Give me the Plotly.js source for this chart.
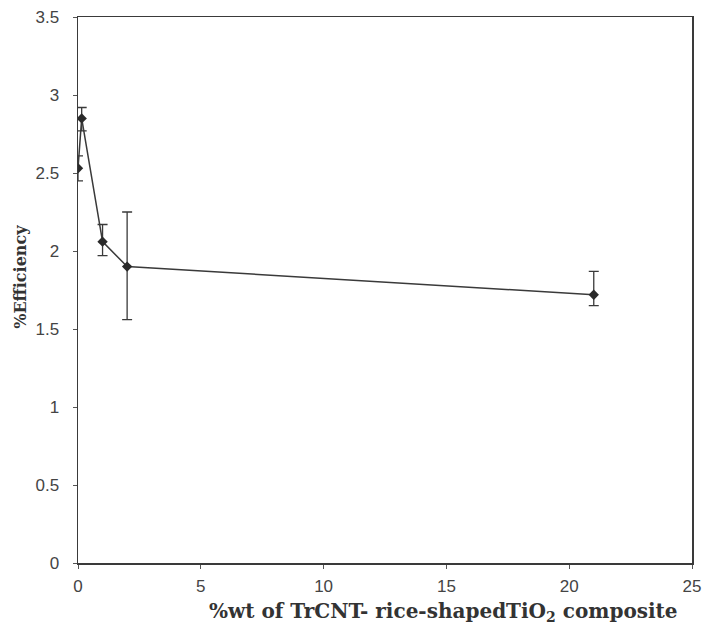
<!DOCTYPE html>
<html>
<head>
<meta charset="utf-8">
<script src="https://cdn.plot.ly/plotly-3.0.1.min.js"></script>
<style>html,body{margin:0;padding:0;background:#fff;}#chart{width:708px;height:625px;}</style>
</head>
<body>
<div id="chart"></div>
<script>
const wtPercent = [0, 0.15, 1, 2, 21];
const efficiency = [2.53, 2.85, 2.06, 1.90, 1.72];
const errPlus = [0.08, 0.07, 0.11, 0.35, 0.15];
const errMinus = [0.08, 0.08, 0.09, 0.34, 0.07];
const yTicks = [0, 0.5, 1, 1.5, 2, 2.5, 3, 3.5];
const xTicks = [0, 5, 10, 15, 20, 25];

const trace = {
  x: wtPercent,
  y: efficiency,
  type: 'scatter',
  mode: 'lines+markers',
  line: {color: '#3a3a3a', width: 1.5},
  marker: {symbol: 'diamond', size: 8, color: '#2a2a2a'},
  error_y: {type: 'data', symmetric: false, array: errPlus, arrayminus: errMinus,
            color: '#3a3a3a', thickness: 1.3, width: 5},
  showlegend: false,
  hoverinfo: 'skip'
};

const tickFont = {family: 'Liberation Sans, Arial, sans-serif', size: 17, color: '#444'};
const layout = {
  width: 708, height: 625,
  margin: {l: 78, r: 16, t: 17, b: 62},
  paper_bgcolor: '#fff', plot_bgcolor: '#fff',
  xaxis: {range: [0, 25], tickvals: xTicks, ticks: 'outside', ticklen: 4, tickcolor: '#555',
          showgrid: false, zeroline: false, showline: true, mirror: true,
          linecolor: '#3a3a3a', linewidth: 1.5, tickfont: tickFont, ticklabelstandoff: 3},
  yaxis: {range: [0, 3.5], tickvals: yTicks, ticks: 'outside', ticklen: 4, tickcolor: '#555',
          showgrid: false, zeroline: false, showline: true, mirror: true,
          linecolor: '#3a3a3a', linewidth: 1.5, tickfont: tickFont, ticklabelstandoff: 10},
  annotations: [
    {text: '%wt of TrCNT- rice-shapedTiO<sub>2</sub> composite', xref: 'paper', yref: 'paper',
     x: 0.596, y: -0.089, xanchor: 'center', yanchor: 'middle', showarrow: false,
     font: {family: 'DejaVu Serif, serif', size: 20, color: '#333', weight: 'bold'}},
    {text: '%Efficiency', xref: 'paper', yref: 'paper', textangle: -90,
     x: -0.093, y: 0.524, xanchor: 'center', yanchor: 'middle', showarrow: false,
     font: {family: 'DejaVu Serif, serif', size: 16, color: '#333', weight: 'bold'}}
  ]
};
Plotly.newPlot('chart', [trace], layout, {displayModeBar: false, staticPlot: true});
</script>
</body>
</html>
